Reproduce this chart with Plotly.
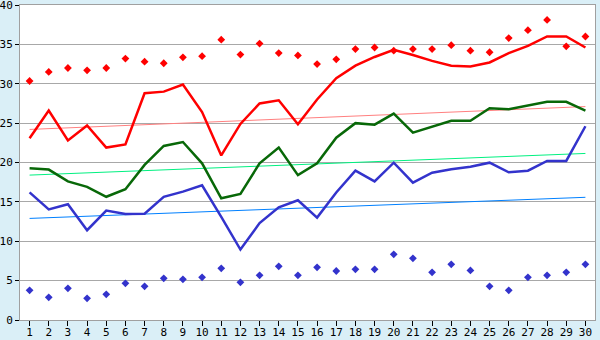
import plotly.graph_objects as go

days = list(range(1, 31))

max_points = [30.35, 31.5, 32.0, 31.7, 32.0, 33.2, 32.8, 32.6, 33.35, 33.5,
              35.6, 33.7, 35.1, 33.9, 33.6, 32.5, 33.1, 34.4, 34.6, 34.2,
              34.4, 34.4, 34.9, 34.2, 34.0, 35.8, 36.8, 38.1, 34.75, 36.0]
high_line = [23.07, 26.6, 22.8, 24.7, 21.9, 22.3, 28.8, 29.0, 29.9, 26.4,
             20.9, 24.9, 27.5, 27.9, 24.85, 28.0, 30.7, 32.3, 33.4, 34.3,
             33.65, 32.9, 32.3, 32.2, 32.7, 33.9, 34.8, 36.0, 36.0, 34.6]
mid_line = [19.26, 19.1, 17.6, 16.9, 15.65, 16.6, 19.7, 22.1, 22.6, 19.9,
            15.45, 16.0, 19.9, 21.9, 18.4, 19.9, 23.15, 25.0, 24.8, 26.2,
            23.8, 24.55, 25.3, 25.3, 26.9, 26.75, 27.2, 27.7, 27.7, 26.6]
low_line = [16.2, 14.05, 14.7, 11.4, 13.9, 13.46, 13.5, 15.65, 16.3, 17.1,
            13.1, 8.95, 12.3, 14.3, 15.2, 13.0, 16.2, 18.96, 17.6, 19.98,
            17.44, 18.7, 19.13, 19.47, 19.98, 18.75, 18.96, 20.2, 20.2, 24.6]
min_points = [3.77, 2.88, 4.02, 2.75, 3.26, 4.66, 4.28, 5.29, 5.17, 5.42,
              6.56, 4.78, 5.67, 6.81, 5.67, 6.69, 6.22, 6.43, 6.43, 8.34,
              7.83, 6.05, 7.07, 6.3, 4.28, 3.77, 5.42, 5.67, 6.05, 7.07]

trend_x = [1, 30]
trend_high = [24.2, 27.1]
trend_mid = [18.4, 21.15]
trend_low = [12.9, 15.58]

y_ticks = [0, 5, 10, 15, 20, 25, 30, 35, 40]

fig = go.Figure()

fig.add_trace(go.Scatter(x=trend_x, y=trend_high, mode="lines",
                         line=dict(color="#FF8080", width=1)))
fig.add_trace(go.Scatter(x=trend_x, y=trend_mid, mode="lines",
                         line=dict(color="#00F080", width=1)))
fig.add_trace(go.Scatter(x=trend_x, y=trend_low, mode="lines",
                         line=dict(color="#0080FF", width=1)))

fig.add_trace(go.Scatter(x=days, y=high_line, mode="lines",
                         line=dict(color="#FF0000", width=2.5)))
fig.add_trace(go.Scatter(x=days, y=mid_line, mode="lines",
                         line=dict(color="#086808", width=2.5)))
fig.add_trace(go.Scatter(x=days, y=low_line, mode="lines",
                         line=dict(color="#3333CC", width=2.5)))

fig.add_trace(go.Scatter(x=days, y=max_points, mode="markers",
                         marker=dict(color="#FF0000", symbol="diamond", size=6)))
fig.add_trace(go.Scatter(x=days, y=min_points, mode="markers",
                         marker=dict(color="#3333CC", symbol="diamond", size=6)))

axis_font = dict(family="DejaVu Sans Mono", size=11, color="#000000")

fig.update_layout(
    width=600, height=340,
    margin=dict(l=20, r=5, t=5, b=20, autoexpand=False),
    paper_bgcolor="#DAEFF7",
    plot_bgcolor="#FFFFFF",
    showlegend=False,
    xaxis=dict(
        range=[0.5, 30.5], tickmode="array", tickvals=days,
        ticktext=[str(d) for d in days],
        ticks="outside", ticklen=5, tickcolor="#000000", tickwidth=1,
        showgrid=False, zeroline=False, automargin=False,
        showline=True, linecolor="#A0A0A0", linewidth=1, mirror=True,
        tickfont=axis_font, fixedrange=True, ticklabeloverflow="allow",
        ticklabelstandoff=-3,
    ),
    yaxis=dict(
        range=[0, 40], tickmode="array", tickvals=y_ticks,
        ticks="outside", ticklen=4, tickcolor="#000000", tickwidth=1,
        showgrid=True, gridcolor="#A8A8A8", gridwidth=1, zeroline=False,
        automargin=False,
        showline=True, linecolor="#A0A0A0", linewidth=1, mirror=True,
        tickfont=axis_font, fixedrange=True, ticklabeloverflow="allow",
    ),
)

fig.write_html("out.html")
